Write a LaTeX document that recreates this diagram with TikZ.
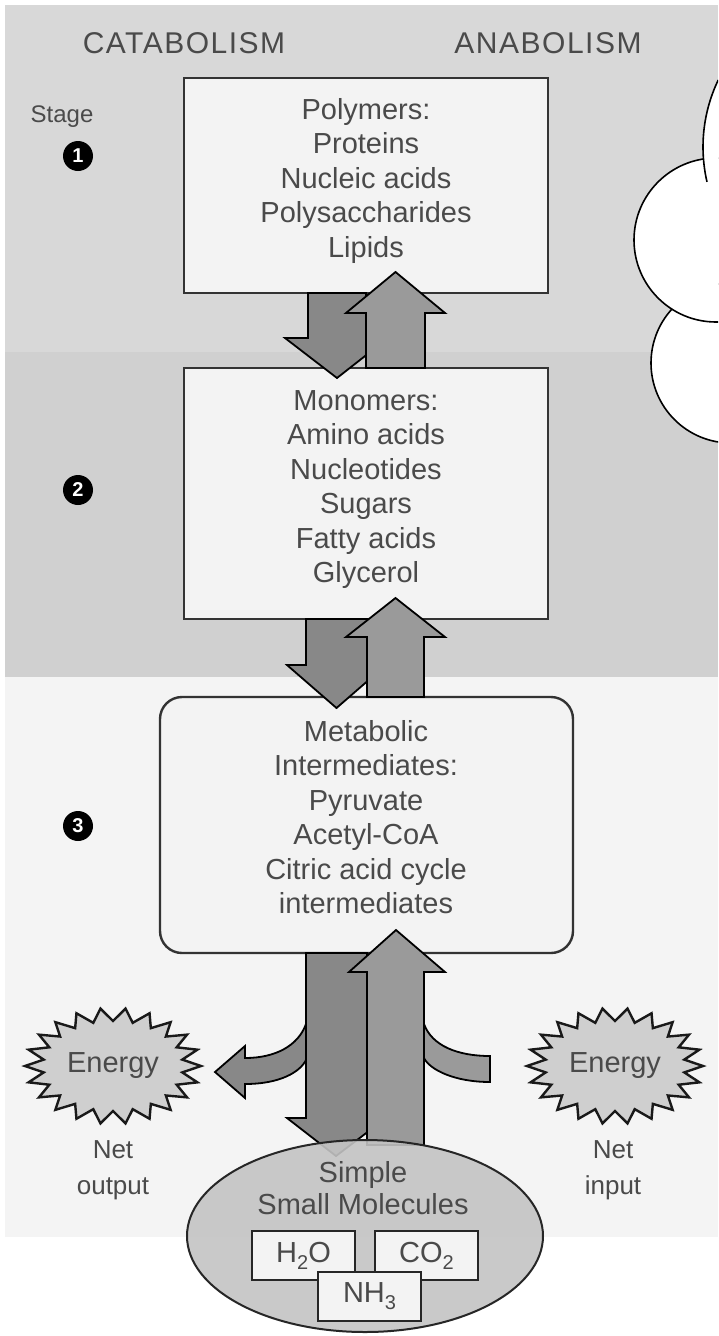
\documentclass[tikz,border=0pt]{standalone}
\usepackage{fontspec}
\setmainfont{Liberation Sans}
\newfontfamily\headfont[LetterSpace=5]{Liberation Sans}
\usetikzlibrary{shapes.geometric}
\definecolor{bandtop}{HTML}{D8D8D8}
\definecolor{bandmid}{HTML}{D0D0D0}
\definecolor{bandlow}{HTML}{F4F4F4}
\definecolor{boxfill}{HTML}{F3F3F3}
\definecolor{boxline}{HTML}{333333}
\definecolor{inkgray}{HTML}{4A4A4A}
\definecolor{downfill}{HTML}{888888}
\definecolor{upfill}{HTML}{9A9A9A}
\definecolor{starfill}{HTML}{CFCFCF}
\definecolor{ellfill}{HTML}{C4C4C4}

\tikzset{
  poolbox/.style={draw=boxline, line width=2.4pt, fill=boxfill, inner sep=0pt},
  pooltext/.style={anchor=north, align=center, text=inkgray, inner sep=0pt,
    font=\fontsize{29}{34.5}\selectfont},
  flowdown/.style={fill=downfill, draw=black, line width=1.8pt},
  flowup/.style={fill=upfill, draw=black, line width=1.8pt},
  badge/.style={circle, fill=black, text=white, inner sep=0pt, minimum size=30pt,
    font=\fontsize{20}{20}\selectfont\bfseries},
  heading/.style={text=inkgray, inner sep=0pt, font=\fontsize{29}{29}\selectfont},
  small/.style={text=inkgray, inner sep=0pt, align=center, font=\fontsize{26}{36}\selectfont},
  burst/.style={fill=starfill, draw=black!90, line width=2.4pt},
  bubble/.style={fill=white, draw=black, line width=1.6pt},
  molbox/.style={draw=black!85, line width=2pt, fill=boxfill, minimum width=103pt,
    minimum height=49pt, inner sep=0pt, text=inkgray, font=\fontsize{29}{29}\selectfont},
}
\newcommand\subdigit[1]{\raisebox{-7pt}{\fontsize{20}{20}\selectfont #1}}

\begin{document}
\begin{tikzpicture}[x=1pt, y=-1pt]
\useasboundingbox (0,0) rectangle (718,1336);

% background bands for the three stages
\fill[white] (0,0) rectangle (718,1336);
\fill[bandtop] (5,5) rectangle (718,352);
\fill[bandmid] (5,352) rectangle (718,677);
\fill[bandlow] (5,677) rectangle (718,1237);

% speech bubbles at the upper right
\begin{scope}
  \clip (0,0) rectangle (718,1336);
  \draw[bubble] (731,363) circle[radius=80];
  \draw[bubble] (716,240) circle[radius=82];
  \fill[white] (858,147) circle[radius=155];
  \draw[black, line width=1.6pt] (858,147) ++(205.6:155) arc[start angle=205.6, end angle=167, radius=155];
\end{scope}

% column headings and stage markers
\node[heading, font=\headfont\fontsize{30}{30}\selectfont] (cat) at (184,43) {CATABOLISM};
\node[heading, font=\headfont\fontsize{30}{30}\selectfont] (ana) at (548,43) {ANABOLISM};
\node[heading, font=\fontsize{24}{24}\selectfont] (stage) at (62,117) {Stage};
\node[badge] (s1) at (78,156) {1};
\node[badge] (s2) at (78,490) {2};
\node[badge] (s3) at (78,826) {3};

% metabolite pools
\node[poolbox, minimum width=364pt, minimum height=215pt] (b1) at (366,185.5) {};
\node[poolbox, minimum width=364pt, minimum height=251pt] (b2) at (366,493.5) {};
\node[poolbox, rounded corners=22pt, minimum width=413pt, minimum height=256pt] (b3) at (366.5,825) {};

\node[pooltext] (t1) at (366,98) {Polymers:\\Proteins\\Nucleic acids\\Polysaccharides\\Lipids};
\node[pooltext] (t2) at (366,390) {Monomers:\\Amino acids\\Nucleotides\\Sugars\\Fatty acids\\Glycerol};
\node[pooltext] (t3) at (366,720) {Metabolic\\Intermediates:\\Pyruvate\\Acetyl-CoA\\Citric acid cycle\\intermediates};

% stage 1 <-> stage 2
\draw[flowdown] (308,293) -- (366,293) -- (366,338) -- (388,338) -- (337,378) -- (285,338) -- (308,338) -- cycle;
\draw[flowup] (366,368) -- (366,313) -- (346,313) -- (395.5,272) -- (445,313) -- (425,313) -- (425,368) -- cycle;

% stage 2 <-> stage 3
\draw[flowdown] (306,619) -- (367,619) -- (367,665) -- (386,665) -- (336.5,708) -- (287,665) -- (306,665) -- cycle;
\draw[flowup] (367,697) -- (367,637) -- (346,637) -- (395.5,598) -- (445,637) -- (424,637) -- (424,697) -- cycle;

% energy released and consumed
\draw[flowdown] (306,1024) .. controls (298,1046) and (275,1058) .. (245,1058) -- (245,1046) -- (215,1072)
  -- (245,1098) -- (245,1084) .. controls (280,1084) and (300,1072) .. (306,1060) -- cycle;
\draw[flowup] (424,1024) .. controls (432,1046) and (458,1056) .. (490,1056) -- (490,1082)
  .. controls (455,1082) and (430,1070) .. (424,1058) -- cycle;

% stage 3 <-> simple molecules
\draw[flowdown] (306,953) -- (367,953) -- (367,1118) -- (386,1118) -- (336,1156) -- (287,1118) -- (306,1118) -- cycle;
\draw[flowup] (367,1145) -- (367,972) -- (349,972) -- (396,930) -- (445,972) -- (424,972) -- (424,1145) -- cycle;

% energy bursts
\draw[burst] plot[domain=0:43, samples=44, variable=\k]
  ({113+(mod(round(\k),2)==0 ? 88 : 70)*cos(\k*360/44)}, {1066+(mod(round(\k),2)==0 ? 58 : 45)*sin(\k*360/44)}) -- cycle;
\draw[burst] plot[domain=0:43, samples=44, variable=\k]
  ({615+(mod(round(\k),2)==0 ? 88 : 70)*cos(\k*360/44)}, {1066+(mod(round(\k),2)==0 ? 58 : 45)*sin(\k*360/44)}) -- cycle;
\node[heading] (eout) at (113,1066) {Energy};
\node[heading] (ein) at (615,1066) {Energy};
\node[small] (nout) at (113,1170) {Net\\output};
\node[small] (nin) at (613,1170) {Net\\input};

% simple small molecules
\node[ellipse, draw=black!85, line width=2pt, fill=ellfill, fill opacity=0.9, draw opacity=1,
  minimum width=356pt, minimum height=192pt] (sm) at (365,1236) {};
\node[heading] (smt) at (363,1192) {\begin{tabular}{@{}c@{}}Simple\\[2pt]Small Molecules\end{tabular}};
\node[molbox] (h2o) at (303.5,1255.5) {H\subdigit{2}O};
\node[molbox] (co2) at (426.5,1255.5) {CO\subdigit{2}};
\node[molbox] (nh3) at (369.5,1296.5) {NH\subdigit{3}};
\end{tikzpicture}
\end{document}
